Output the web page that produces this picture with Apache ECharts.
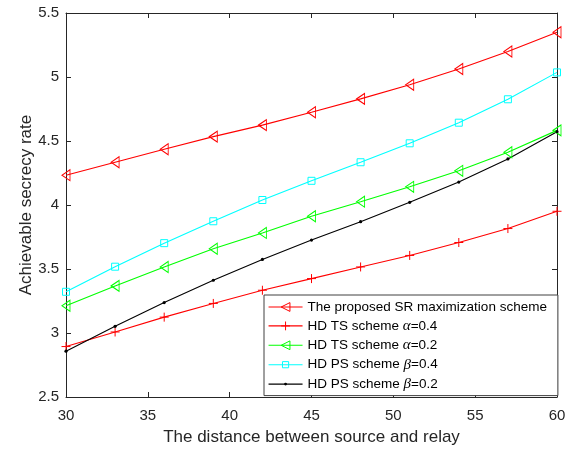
<!DOCTYPE html>
<html>
<head>
<meta charset="utf-8">
<script src="https://cdn.jsdelivr.net/npm/echarts@6/dist/echarts.min.js"></script>
<style>
  html, body { margin: 0; padding: 0; background: #fff; }
  #chart { width: 575px; height: 451px; }
</style>
</head>
<body>
<div id="chart"></div>
<script>
// Distance between source and relay (x values)
const distances = [30, 33, 36, 39, 42, 45, 48, 51, 54, 57, 60];

// Achievable secrecy rate for each scheme
const proposedSR = [4.233, 4.334, 4.435, 4.534, 4.624, 4.725, 4.829, 4.940, 5.062, 5.199, 5.350];
const tsAlpha04  = [2.894, 3.008, 3.124, 3.231, 3.334, 3.425, 3.516, 3.606, 3.707, 3.816, 3.951];
const tsAlpha02  = [3.213, 3.368, 3.516, 3.658, 3.782, 3.912, 4.026, 4.142, 4.267, 4.412, 4.583];
const psBeta04   = [3.322, 3.518, 3.702, 3.873, 4.039, 4.189, 4.334, 4.482, 4.643, 4.826, 5.036];
const psBeta02   = [2.858, 3.052, 3.238, 3.412, 3.575, 3.726, 3.870, 4.021, 4.179, 4.360, 4.573];

const seriesNames = [
  'The proposed SR maximization scheme',
  'HD TS scheme α=0.4',
  'HD TS scheme α=0.2',
  'HD PS scheme β=0.4',
  'HD PS scheme β=0.2'
];

const xAxisName = 'The distance between source and relay';
const yAxisName = 'Achievable secrecy rate';

const FONT = 'Liberation Sans, Arial, Helvetica, sans-serif';
const AXIS_COLOR = '#262626';

function pairs(ys) { return distances.map((x, i) => [x, ys[i]]); }

// marker shapes
const PLUS = 'path://M0,5H10M5,0V10';
const SQUARE = 'path://M0,0M10,10M1.5,1.5H8.5V8.5H1.5Z';
const DOT = 'path://M0,0M10,10M5,3.4A1.6,1.6,0,1,1,5,6.6A1.6,1.6,0,1,1,5,3.4Z';

function lineSeries(name, ys, color, symbol, size, rotate, filled) {
  return {
    name: name,
    type: 'line',
    data: pairs(ys),
    xAxisIndex: 0,
    yAxisIndex: 0,
    symbol: symbol,
    symbolSize: size,
    symbolRotate: rotate,
    showSymbol: true,
    showAllSymbol: true,
    silent: true,
    animation: false,
    lineStyle: { color: color, width: 1.1 },
    itemStyle: filled
      ? { color: color, borderWidth: 0 }
      : { color: 'none', borderColor: color, borderWidth: 1 },
    emphasis: { disabled: true }
  };
}

const chart = echarts.init(document.getElementById('chart'), null, { renderer: 'canvas' });

const baseX = {
  type: 'value', min: 30, max: 60, interval: 5,
  axisLine: { show: true, onZero: false, lineStyle: { color: AXIS_COLOR, width: 1 } },
  axisTick: { show: true, inside: true, length: 5, lineStyle: { color: AXIS_COLOR } },
  splitLine: { show: false }
};
const baseY = {
  type: 'value', min: 2.5, max: 5.5, interval: 0.5,
  axisLine: { show: true, onZero: false, lineStyle: { color: AXIS_COLOR, width: 1 } },
  axisTick: { show: true, inside: true, length: 5, lineStyle: { color: AXIS_COLOR } },
  splitLine: { show: false }
};

chart.setOption({
  backgroundColor: '#fff',
  animation: false,
  textStyle: { fontFamily: FONT },
  grid: { left: 66, top: 13, right: 18, bottom: 52, containLabel: false },
  xAxis: [
    Object.assign({}, baseX, {
      position: 'bottom',
      axisLabel: { show: true, fontSize: 15, color: AXIS_COLOR, margin: 11, fontFamily: FONT },
      name: xAxisName,
      nameLocation: 'middle',
      nameGap: 32,
      nameMoveOverlap: false,
      nameTextStyle: { fontSize: 17, color: AXIS_COLOR, fontFamily: FONT }
    }),
    Object.assign({}, baseX, { position: 'top', axisLabel: { show: false } })
  ],
  yAxis: [
    Object.assign({}, baseY, {
      position: 'left',
      axisLabel: { show: true, fontSize: 15, color: AXIS_COLOR, margin: 7, fontFamily: FONT,
                   formatter: v => String(Math.round(v * 10) / 10) },
      name: yAxisName,
      nameLocation: 'middle',
      nameGap: 31,
      nameMoveOverlap: false,
      nameTextStyle: { fontSize: 17, color: AXIS_COLOR, fontFamily: FONT }
    }),
    Object.assign({}, baseY, { position: 'right', axisLabel: { show: false } })
  ],
  legend: {
    show: true,
    orient: 'vertical',
    left: 264,
    top: 295,
    padding: [5, 11, 4, 4],
    itemGap: 4.4,
    itemWidth: 34,
    itemHeight: 11,
    itemStyle: { borderWidth: 1 },
    lineStyle: { width: 1.1 },
    backgroundColor: '#fff',
    borderColor: '#404040',
    borderWidth: 1,
    borderRadius: 0,
    selectedMode: false,
    data: seriesNames,
    formatter: name => name.replace(/([αβ])/g, '{g|$1}'),
    textStyle: {
      fontSize: 13.5,
      color: '#000',
      fontFamily: FONT,
      lineHeight: 14,
      rich: {
        g: { fontFamily: 'Liberation Serif, Times New Roman, serif', fontStyle: 'italic',
             fontSize: 15, color: '#000', lineHeight: 14 }
      }
    }
  },
  series: [
    lineSeries(seriesNames[0], proposedSR, '#ff0000', 'triangle', [11, 8], 90, false),
    lineSeries(seriesNames[1], tsAlpha04, '#ff0000', PLUS, 9, 0, false),
    lineSeries(seriesNames[2], tsAlpha02, '#00ff00', 'triangle', [11, 8], 90, false),
    lineSeries(seriesNames[3], psBeta04, '#00ffff', SQUARE, 10, 0, false),
    lineSeries(seriesNames[4], psBeta02, '#000000', DOT, 10, 0, true)
  ]
});
</script>
</body>
</html>
